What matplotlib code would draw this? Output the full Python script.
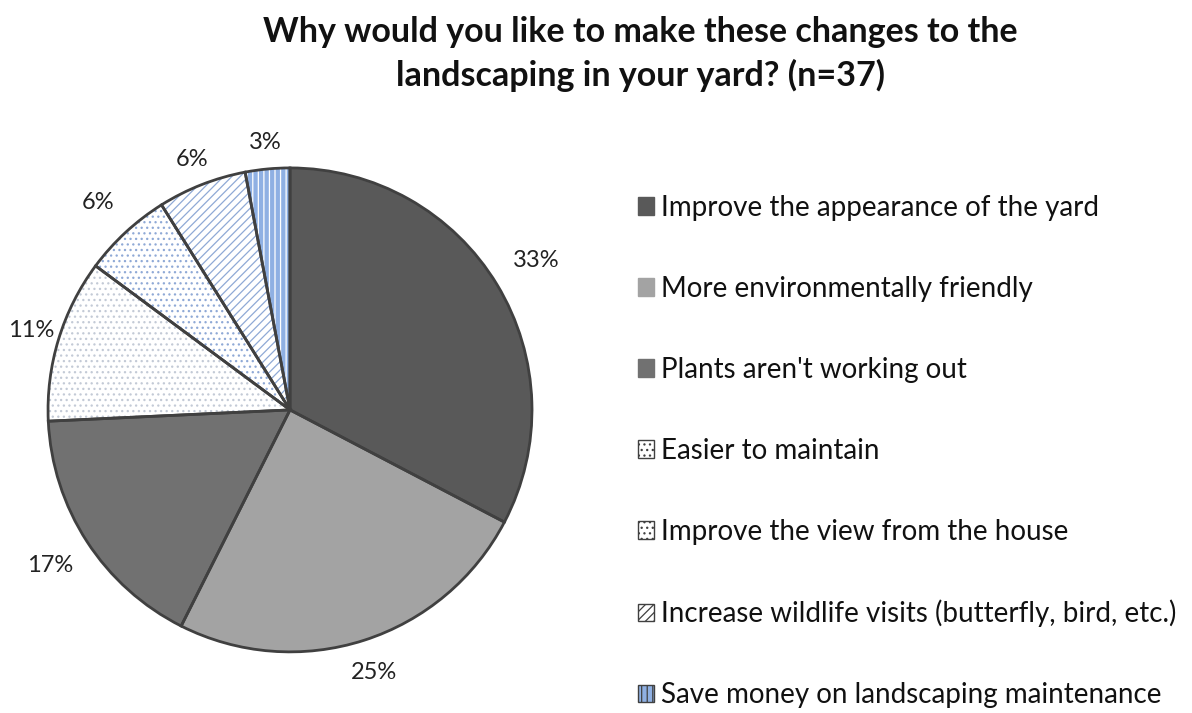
import numpy as np
import matplotlib.pyplot as plt
from matplotlib.patches import Patch

plt.rcParams['font.family'] = ['Lato', 'DejaVu Sans']
plt.rcParams['hatch.linewidth'] = 0.9

reasons = ['Improve the appearance of the yard',
           'More environmentally friendly',
           "Plants aren't working out",
           'Easier to maintain',
           'Improve the view from the house',
           'Increase wildlife visits (butterfly, bird, etc.)',
           'Save money on landscaping maintenance']
pct = [33, 25, 17, 11, 6, 6, 3]

faces = ['#595959', '#a3a3a3', '#717171', 'white', 'white', 'white', '#8fb0e3']
hatches = [None, None, None, '...', '...', '////', '|||']
hatch_cols = ['#595959', '#a3a3a3', '#717171', '#c3cad6', '#8fa9d6', '#8fa9d6', '#ffffff']
outline = '#404040'
# distance of each percentage label from the centre (in radii)
label_r = [1.19, 1.14, 1.18, 1.12, 1.17, 1.11, 1.11]

fig = plt.figure(figsize=(11.92, 7.13), dpi=100)
ax = fig.add_axes([0.0403, 0.0856, 0.406, 0.679])

# filled/hatched wedges, hatch drawn in its own colour
wedges, _ = ax.pie(pct, startangle=90, counterclock=False, radius=1.0,
                   wedgeprops=dict(linewidth=0))
for w, fc, h, hc in zip(wedges, faces, hatches, hatch_cols):
    w.set_facecolor(fc)
    w.set_edgecolor(hc)
    if h:
        w.set_hatch(h)

# outlines
ax.pie(pct, startangle=90, counterclock=False, radius=1.0,
       colors=['none'] * len(pct),
       wedgeprops=dict(linewidth=2, edgecolor=outline))

# percentage labels outside each slice
for w, p, r in zip(wedges, pct, label_r):
    mid = np.deg2rad((w.theta1 + w.theta2) / 2)
    ax.text(r * np.cos(mid), r * np.sin(mid), '%d%%' % p, fontsize=17,
            color='#222222', ha='center', va='center')

ax.set_xlim(-1.0, 1.0)
ax.set_ylim(-1.0, 1.0)
ax.set_aspect('equal')
ax.axis('off')

handles = [Patch(facecolor=fc, edgecolor=outline if fc == 'white' or h else fc,
                 hatch=h, linewidth=1) for fc, h in zip(faces, hatches)]
fig.legend(handles, reasons, loc='upper left', bbox_to_anchor=(0.514, 0.762),
           frameon=False, fontsize=20, handlelength=0.6, handleheight=0.6,
           handletextpad=0.25, labelspacing=1.98, labelcolor='#111111')

fig.text(0.537, 0.978, 'Why would you like to make these changes to the\n'
         'landscaping in your yard? (n=37)', ha='center', va='top',
         fontsize=24.5, fontweight='bold', linespacing=1.4, color='#111111')

fig.savefig('out.png', dpi=100)
